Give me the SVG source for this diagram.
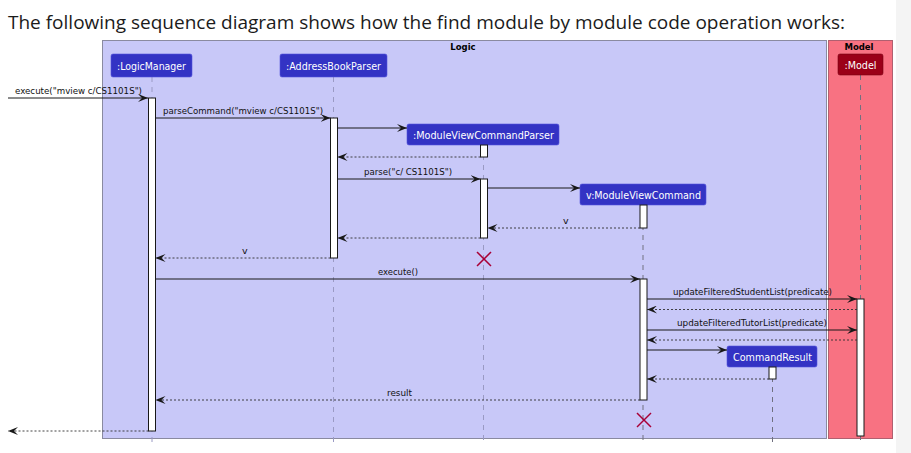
<svg xmlns="http://www.w3.org/2000/svg" width="911" height="453" viewBox="0 0 911 453">
<defs>
<marker id="ah" markerUnits="userSpaceOnUse" markerWidth="10" markerHeight="8" refX="10" refY="4" orient="auto">
<path d="M0,0 L10,4 L0,8 L4,4 Z" fill="#181818"/>
</marker>
<style>
.title{font-family:"Open Sans","Noto Sans",sans-serif;font-size:19px;fill:#1b1b1b}
.grp{font-family:"DejaVu Sans",sans-serif;font-size:8.5px;font-weight:bold;fill:#000;text-anchor:middle}
.pbox{fill:#3333c4;stroke:#5555dd;stroke-width:0.6}
.mbox{fill:#9b0018;stroke:#7a0012;stroke-width:0.6}
.ptxt{font-family:"DejaVu Sans",sans-serif;font-size:10.5px;fill:#fff;text-anchor:middle}
.life{stroke:#9a9ac4;stroke-width:1;stroke-dasharray:5,5;fill:none}
.lifed{stroke:#707080;stroke-width:1;stroke-dasharray:5,5;fill:none}
.act{fill:#fff;stroke:#181818;stroke-width:1}
.msg{stroke:#181818;stroke-width:1;fill:none;marker-end:url(#ah)}
.ret{stroke:#303030;stroke-width:0.9;stroke-dasharray:2,2;fill:none;marker-end:url(#ah)}
.lbl{font-family:"DejaVu Sans",sans-serif;font-size:9.5px;fill:#111}
.x{stroke:#a80036;stroke-width:1.5}
</style>
</defs>
<rect x="0" y="0" width="911" height="453" fill="#ffffff"/>
<rect x="896" y="0" width="15" height="453" fill="#f4f4f4"/>
<text class="title" x="8" y="29" textLength="837" lengthAdjust="spacingAndGlyphs">The following sequence diagram shows how the find module by module code operation works:</text>

<g id="box-logic">
<rect x="102.5" y="40.5" width="724" height="398" fill="#c8c8f8" stroke="#8a8aa0" stroke-width="1"/>
<text class="grp" x="463" y="50">Logic</text>
</g>
<g id="box-model">
<rect x="828.5" y="40.5" width="64" height="398" fill="#f87282" stroke="#b06070" stroke-width="1"/>
<text class="grp" x="859" y="50">Model</text>
</g>

<g id="lifelines">
<line class="life" x1="152" y1="77" x2="152" y2="443"/>
<line class="life" x1="333.5" y1="77" x2="333.5" y2="443"/>
<line class="life" x1="483.5" y1="145" x2="483.5" y2="443"/>
<line class="lifed" x1="643" y1="205" x2="643" y2="443"/>
<line class="lifed" x1="772.5" y1="367" x2="772.5" y2="443"/>
<line class="lifed" x1="860.5" y1="75" x2="860.5" y2="443"/>
</g>

<g id="node-logicmanager">
<rect class="pbox" x="111" y="54" width="81" height="23" rx="2"/>
<text class="ptxt" x="151.5" y="69.5" textLength="69" lengthAdjust="spacingAndGlyphs">:LogicManager</text>
<rect class="act" x="148.5" y="98" width="7" height="333"/>
</g>
<g id="node-addressbookparser">
<rect class="pbox" x="280" y="54" width="107" height="23" rx="2"/>
<text class="ptxt" x="333.5" y="69.5" textLength="95" lengthAdjust="spacingAndGlyphs">:AddressBookParser</text>
<rect class="act" x="330.5" y="118" width="7" height="140"/>
</g>
<g id="node-moduleviewcommandparser">
<rect class="pbox" x="407" y="124" width="152" height="21" rx="2"/>
<text class="ptxt" x="483.5" y="138.5" textLength="141" lengthAdjust="spacingAndGlyphs">:ModuleViewCommandParser</text>
<rect class="act" x="480.5" y="145" width="7" height="12"/>
<rect class="act" x="480.5" y="179" width="7" height="59"/>
<line class="x" x1="477" y1="252" x2="491" y2="266"/>
<line class="x" x1="491" y1="252" x2="477" y2="266"/>
</g>
<g id="node-moduleviewcommand">
<rect class="pbox" x="580" y="184" width="126" height="21" rx="2"/>
<text class="ptxt" x="643.5" y="198.5" textLength="115" lengthAdjust="spacingAndGlyphs">v:ModuleViewCommand</text>
<rect class="act" x="640" y="205" width="7" height="23"/>
<rect class="act" x="640" y="279" width="7" height="121"/>
<line class="x" x1="637" y1="413" x2="651" y2="427"/>
<line class="x" x1="651" y1="413" x2="637" y2="427"/>
</g>
<g id="node-commandresult">
<rect class="pbox" x="727" y="346" width="90" height="21" rx="2"/>
<text class="ptxt" x="772.5" y="360.5" textLength="79" lengthAdjust="spacingAndGlyphs">CommandResult</text>
<rect class="act" x="769" y="367" width="7" height="12"/>
</g>
<g id="node-model">
<rect class="mbox" x="838" y="54" width="45" height="21" rx="2"/>
<text class="ptxt" x="860.5" y="69" textLength="32" lengthAdjust="spacingAndGlyphs">:Model</text>
<rect class="act" x="857" y="299" width="7" height="137"/>
</g>

<g id="connectors">
<line class="msg" x1="8" y1="98" x2="148" y2="98"/>
<text class="lbl" x="15" y="94" textLength="127" lengthAdjust="spacingAndGlyphs">execute("mview c/CS1101S")</text>
<line class="msg" x1="155.5" y1="118" x2="330.5" y2="118"/>
<text class="lbl" x="163" y="114" textLength="160" lengthAdjust="spacingAndGlyphs">parseCommand("mview c/CS1101S")</text>
<line class="msg" x1="337.5" y1="128" x2="407" y2="128"/>
<line class="ret" x1="480.5" y1="157" x2="337.5" y2="157"/>
<line class="msg" x1="337.5" y1="179" x2="480.5" y2="179"/>
<text class="lbl" x="364" y="175" textLength="88" lengthAdjust="spacingAndGlyphs">parse("c/ CS1101S")</text>
<line class="msg" x1="487.5" y1="188" x2="580" y2="188"/>
<line class="ret" x1="640" y1="228" x2="487.5" y2="228"/>
<text class="lbl" x="563" y="224">v</text>
<line class="ret" x1="480.5" y1="238" x2="337.5" y2="238"/>
<line class="ret" x1="330.5" y1="258" x2="155.5" y2="258"/>
<text class="lbl" x="242" y="254">v</text>
<line class="msg" x1="155.5" y1="279" x2="640" y2="279"/>
<text class="lbl" x="378" y="275" textLength="40" lengthAdjust="spacingAndGlyphs">execute()</text>
<line class="msg" x1="647" y1="299" x2="857" y2="299"/>
<text class="lbl" x="673" y="295" textLength="159" lengthAdjust="spacingAndGlyphs">updateFilteredStudentList(predicate)</text>
<line class="ret" x1="857" y1="309.5" x2="647" y2="309.5"/>
<line class="msg" x1="647" y1="330" x2="857" y2="330"/>
<text class="lbl" x="677" y="326" textLength="150" lengthAdjust="spacingAndGlyphs">updateFilteredTutorList(predicate)</text>
<line class="ret" x1="857" y1="340" x2="647" y2="340"/>
<line class="msg" x1="647" y1="350" x2="727" y2="350"/>
<line class="ret" x1="769" y1="379" x2="647" y2="379"/>
<line class="ret" x1="640" y1="400" x2="155.5" y2="400"/>
<text class="lbl" x="387" y="396" textLength="25" lengthAdjust="spacingAndGlyphs">result</text>
<line class="ret" x1="148.5" y1="431" x2="8" y2="431"/>
</g>
</svg>
